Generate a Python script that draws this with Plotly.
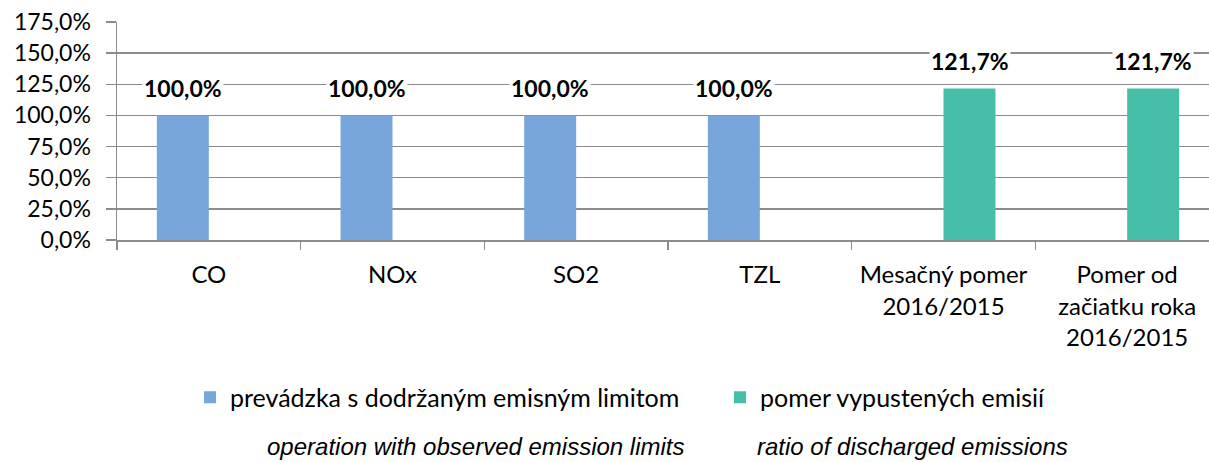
import plotly.graph_objects as go

categories = ["CO", "NOx", "SO2", "TZL", "Mesačný pomer<br>2016/2015", "Pomer od<br>začiatku roka<br>2016/2015"]
series1_name = "prevádzka s dodržaným emisným limitom"
series1_values = [100.0, 100.0, 100.0, 100.0, None, None]
series2_name = "pomer vypustených emisií"
series2_values = [None, None, None, None, 121.7, 121.7]
y_ticks = [0, 25, 50, 75, 100, 125, 150, 175]
notes = ["operation with observed emission limits", "ratio of discharged emissions"]

BLUE = "#77A6DC"
GREEN = "#47BFA8"
GRID = "#8C8C8C"
FONT = "Lato"

L, T, B = 117, 22, 222
PW, PH = 1209 - L, 462 - T - B


def fmt(v):
    return f"{v:.1f}".replace(".", ",") + "%"


fig = go.Figure()
fig.add_trace(go.Bar(x=categories, y=series1_values, name=series1_name,
                     marker=dict(color=BLUE, line=dict(width=0))))
fig.add_trace(go.Bar(x=categories, y=series2_values, name=series2_name,
                     marker=dict(color=GREEN, line=dict(width=0))))

annotations = []
for vals, shift in ((series1_values, -26), (series2_values, 26)):
    for c, v in zip(categories, vals):
        if v is None:
            continue
        annotations.append(dict(x=c, y=v, xref="x", yref="y", text="<b>" + fmt(v) + "</b>",
                                showarrow=False, xshift=shift, yshift=27,
                                font=dict(family=FONT, size=23, color="black"),
                                bgcolor="white", borderpad=1))

note_x = [265, 755]
for t, px in zip(notes, note_x):
    annotations.append(dict(x=(px - L) / PW, y=(T + PH - 446) / PH, xref="paper", yref="paper",
                            xanchor="left", yanchor="middle", text="<i>" + t + "</i>",
                            showarrow=False,
                            font=dict(family="Liberation Sans", size=24, color="black")))

fig.update_layout(
    width=1209, height=462,
    margin=dict(l=L, r=0, t=T, b=B, autoexpand=False),
    paper_bgcolor="white", plot_bgcolor="white",
    barmode="group", bargap=0.434, bargroupgap=0,
    font=dict(family=FONT, size=24, color="black"),
    showlegend=True,
    legend=dict(orientation="h", x=190 / 1209, y=1 - 397.5 / 462, xref="container", yref="container",
                xanchor="left", yanchor="middle",
                font=dict(family=FONT, size=25, color="black"),
                entrywidth=485, entrywidthmode="pixels", itemsizing="constant",
                traceorder="normal", bgcolor="rgba(0,0,0,0)"),
    annotations=annotations,
)
fig.update_xaxes(type="category", range=[-0.5, 5.5 - 10 / 183.7], tickson="boundaries",
                 ticks="outside", ticklen=8, tickcolor=GRID, tickwidth=1.5,
                 showline=True, linecolor=GRID, linewidth=1.5, showgrid=False,
                 ticklabelstandoff=13, automargin=False,
                 tickfont=dict(family=FONT, size=24, color="black"))
fig.update_yaxes(range=[0, 175], tickvals=y_ticks, ticktext=[fmt(v) for v in y_ticks],
                 ticks="outside", ticklen=10, tickcolor=GRID, tickwidth=1.5,
                 showline=True, linecolor=GRID, linewidth=1.5, automargin=False,
                 ticklabelstandoff=10,
                 showgrid=True, gridcolor=GRID, gridwidth=1.5, zeroline=False,
                 tickfont=dict(family=FONT, size=23, color="black"))

fig.write_html("out.html", config={"displayModeBar": False, "staticPlot": True},
               post_script="document.body.style.margin='0';document.body.style.overflow='hidden';")
